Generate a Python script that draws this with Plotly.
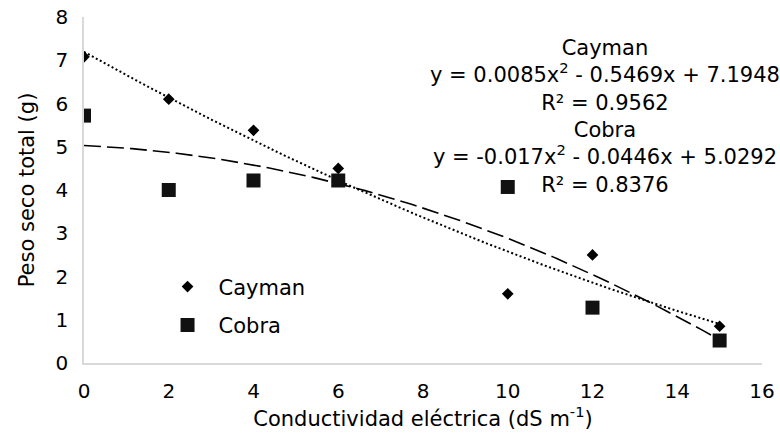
import numpy as np
import plotly.graph_objects as go

x_vals = [0, 2, 4, 6, 10, 12, 15]
cayman = [7.08, 6.10, 5.38, 4.50, 1.60, 2.50, 0.85]
cobra = [5.72, 4.00, 4.22, 4.22, 4.07, 1.28, 0.52]

# polynomial trendline coefficients shown on the chart (a x^2 + b x + c)
cayman_coef = [0.0085, -0.5469, 7.1948]
cobra_coef = [-0.017, -0.0446, 5.0292]

x_ticks = [0, 2, 4, 6, 8, 10, 12, 14, 16]
y_ticks = [0, 1, 2, 3, 4, 5, 6, 7, 8]

xs = np.linspace(min(x_vals), max(x_vals), 200)

FONT = "DejaVu Sans"
FS = 21

fig = go.Figure()
fig.add_trace(go.Scatter(x=xs, y=np.polyval(cayman_coef, xs), mode="lines",
                         line=dict(color="black", width=2, dash="2px,2.5px"),
                         showlegend=False, hoverinfo="skip"))
fig.add_trace(go.Scatter(x=xs, y=np.polyval(cobra_coef, xs), mode="lines",
                         line=dict(color="black", width=1.6, dash="17px,6px"),
                         showlegend=False, hoverinfo="skip"))
fig.add_trace(go.Scatter(x=x_vals, y=cayman, mode="markers", name="Cayman",
                         legendgroup="a",
                         marker=dict(symbol="diamond", size=9, color="black")))
fig.add_trace(go.Scatter(x=x_vals, y=cobra, mode="markers", name="Cobra",
                         legendgroup="b",
                         marker=dict(symbol="square", size=14, color="#111111")))

fig.add_annotation(
    x=0.768, xref="paper", xanchor="center", y=0.952, yref="paper", yanchor="top",
    text=("Cayman<br>y = 0.0085x<sup>2</sup> - 0.5469x + 7.1948<br>R² = 0.9562<br>"
          "Cobra<br>y = -0.017x<sup>2</sup> - 0.0446x + 5.0292<br>R² = 0.8376"),
    showarrow=False, align="center",
    font=dict(family=FONT, size=FS, color="black"),
)

fig.update_layout(
    width=780, height=437,
    margin=dict(l=84, r=18, t=17, b=74),
    paper_bgcolor="white", plot_bgcolor="white",
    font=dict(family=FONT, size=FS, color="black"),
    legend=dict(x=0.107, y=0.279, xanchor="left", yanchor="top",
                bgcolor="rgba(0,0,0,0)", font=dict(size=FS),
                itemwidth=52, traceorder="grouped", tracegroupgap=8),
    xaxis=dict(range=[0, 16], tickvals=x_ticks, ticktext=[str(t) for t in x_ticks],
               showgrid=False, zeroline=False, showline=True, linecolor="#d9d9d9",
               linewidth=1.5, ticks="", ticklabelstandoff=9,
               automargin="bottom",
               tickfont=dict(size=20),
               title=dict(text="Conductividad eléctrica (dS m<sup>-1</sup>)",
                          font=dict(size=FS), standoff=6)),
    yaxis=dict(range=[0, 8], tickvals=y_ticks, showgrid=False, zeroline=False,
               showline=True, linecolor="#d9d9d9", linewidth=1.5, ticks="",
               ticklabelstandoff=10, tickfont=dict(size=20), automargin=False,
               title=dict(text="Peso seco total (g)", font=dict(size=FS))),
)

fig.write_html("out.html", config={"displayModeBar": False},
               post_script="document.body.style.margin='0';")
